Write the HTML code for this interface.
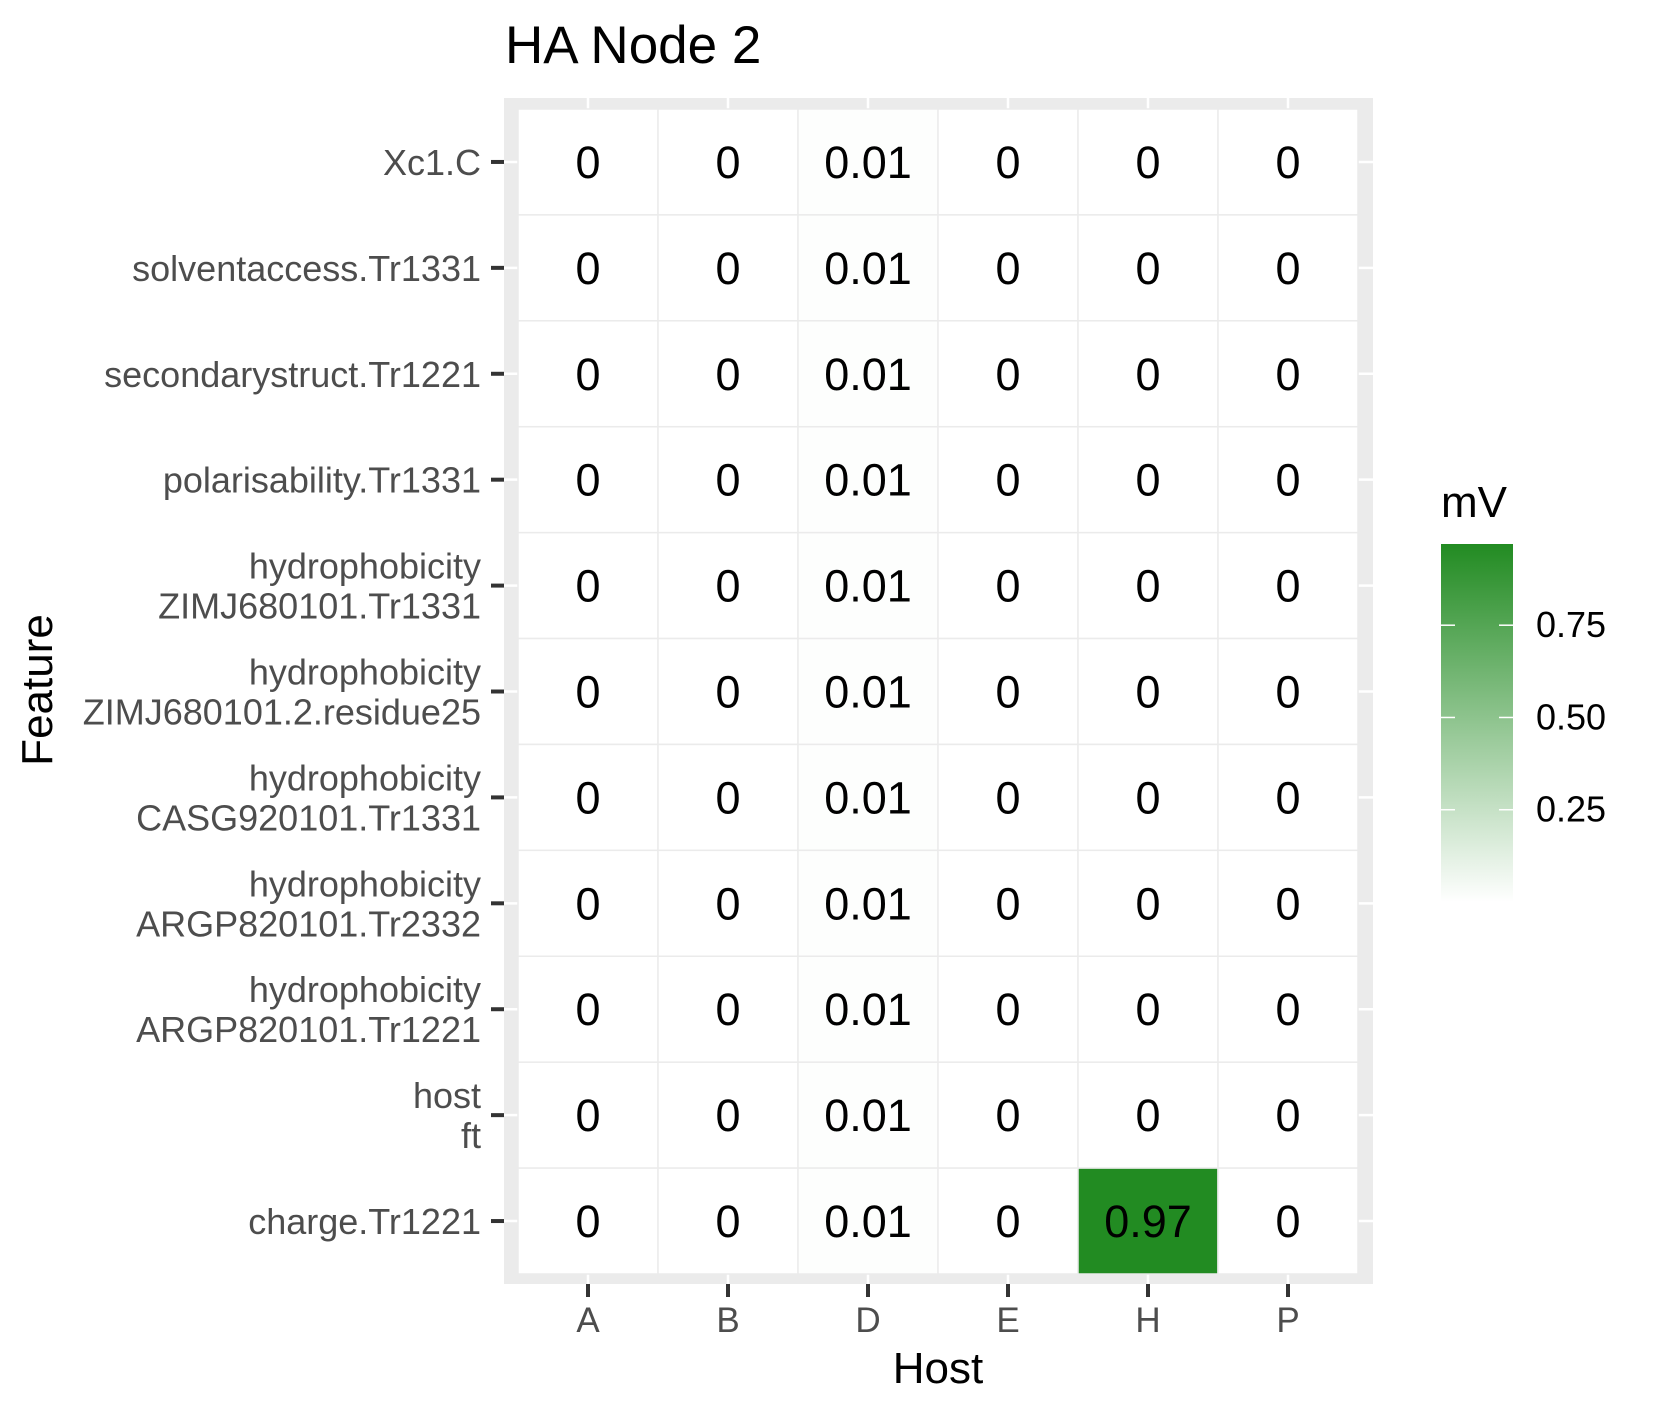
<!DOCTYPE html>
<html><head><meta charset="utf-8"><style>
html,body{margin:0;padding:0;background:#fff}
svg{display:block}
text{font-family:"Liberation Sans",sans-serif}
</style></head><body>
<svg id="chart" width="1653" height="1417" viewBox="0 0 1653 1417" xmlns="http://www.w3.org/2000/svg">
<defs>
<linearGradient id="lg" x1="0" y1="1" x2="0" y2="0">
<stop offset="0" stop-color="#ffffff"/><stop offset="1" stop-color="#228B22"/>
</linearGradient>
</defs>
<text x="505" y="63" font-size="53" fill="#000">HA Node 2</text>
<rect x="504" y="98" width="869" height="1186" fill="#ebebeb"/>
<g id="grid"></g>
<g id="cells"></g>
<g id="yaxis"></g>
<g id="xaxis"></g>
<text x="938" y="1383" font-size="44" text-anchor="middle" fill="#000">Host</text>
<text transform="translate(52,690) rotate(-90)" font-size="44" text-anchor="middle" fill="#000">Feature</text>
<g id="legend">
<text x="1441" y="517" font-size="44" fill="#000">mV</text>
<rect x="1441" y="544" width="72" height="358" fill="url(#lg)"/>
</g>
</svg>
<script>
const hosts = ["A","B","D","E","H","P"];
const features = ["Xc1.C","solventaccess.Tr1331","secondarystruct.Tr1221","polarisability.Tr1331","hydrophobicity\nZIMJ680101.Tr1331","hydrophobicity\nZIMJ680101.2.residue25","hydrophobicity\nCASG920101.Tr1331","hydrophobicity\nARGP820101.Tr2332","hydrophobicity\nARGP820101.Tr1221","host\nft","charge.Tr1221"];
const values = [
[0,0,0.01,0,0,0],
[0,0,0.01,0,0,0],
[0,0,0.01,0,0,0],
[0,0,0.01,0,0,0],
[0,0,0.01,0,0,0],
[0,0,0.01,0,0,0],
[0,0,0.01,0,0,0],
[0,0,0.01,0,0,0],
[0,0,0.01,0,0,0],
[0,0,0.01,0,0,0],
[0,0,0.01,0,0.97,0]
];
const legendTicks = [0.25,0.5,0.75];
const legendLabels = ["0.25","0.50","0.75"];

const NS="http://www.w3.org/2000/svg";
const X0=518,X1=1358,Y0=109,Y1=1274;
const cw=(X1-X0)/hosts.length, rh=(Y1-Y0)/features.length;
const xc=j=>X0+cw*(j+0.5);
const yc=i=>Y0+rh*(i+0.5);
let vmin=Infinity,vmax=-Infinity;
values.forEach(r=>r.forEach(v=>{vmin=Math.min(vmin,v);vmax=Math.max(vmax,v);}));
function col(v){const t=(v-vmin)/(vmax-vmin||1);
 const a=[255,255,255],b=[34,139,34];
 return "rgb("+a.map((c,k)=>Math.round(c+(b[k]-c)*t)).join(",")+")";}
function mk(tag,at,parent){const e=document.createElementNS(NS,tag);for(const k in at)e.setAttribute(k,at[k]);parent.appendChild(e);return e;}
const grid=document.getElementById('grid'),cells=document.getElementById('cells'),ya=document.getElementById('yaxis'),xa=document.getElementById('xaxis'),lg=document.getElementById('legend');
hosts.forEach((h,j)=>{
 const g=mk('line',{x1:xc(j),x2:xc(j),y1:98,y2:1284,stroke:'#fff','stroke-width':2.5},grid);
 
 
 const t=mk('line',{x1:xc(j),x2:xc(j),y1:1284,y2:1297,stroke:'#333','stroke-width':4},xa);
 
 
 const l=mk('text',{x:xc(j),y:1332,'font-size':35,'text-anchor':'middle',fill:'#4d4d4d'},xa);
 l.textContent=h;
 
 
});
features.forEach((f,i)=>{
 const g=mk('line',{x1:504,x2:1373,y1:yc(i),y2:yc(i),stroke:'#fff','stroke-width':2.5},grid);
 
 
 const t=mk('line',{x1:491,x2:504,y1:yc(i),y2:yc(i),stroke:'#333','stroke-width':4},ya);
 
 
 const lines=f.split("\n");
 const l=mk('text',{x:481,'font-size':36,'text-anchor':'end',fill:'#4d4d4d'},ya);
 
 
 const base=yc(i)+13-(lines.length-1)*40/2;
 lines.forEach((s,k)=>{const ts=mk('tspan',{x:481,y:base+k*40},l);ts.textContent=s;});
 hosts.forEach((h,j)=>{
  const v=values[i][j];
  const r=mk('rect',{x:X0+cw*j,y:Y0+rh*i,width:cw,height:rh,fill:col(v),stroke:'#ebebeb','stroke-width':1.5},cells);
  
  
  const tx=mk('text',{x:xc(j),y:yc(i)+16,'font-size':45,'text-anchor':'middle',fill:'#000'},cells);
  tx.textContent=String(v);
  
  
 });
});
const ly=v=>902-(v-vmin)/(vmax-vmin||1)*358;
legendTicks.forEach((v,k)=>{
 const a=mk('line',{x1:1441,x2:1455,y1:ly(v),y2:ly(v),stroke:'#fff','stroke-width':1.5},lg);
 
 
 const b=mk('line',{x1:1499,x2:1513,y1:ly(v),y2:ly(v),stroke:'#fff','stroke-width':1.5},lg);
 
 
 const t=mk('text',{x:1536,y:ly(v)+12,'font-size':36,fill:'#000'},lg);
 t.textContent=legendLabels[k];
 
 
});
</script>
</body></html>
